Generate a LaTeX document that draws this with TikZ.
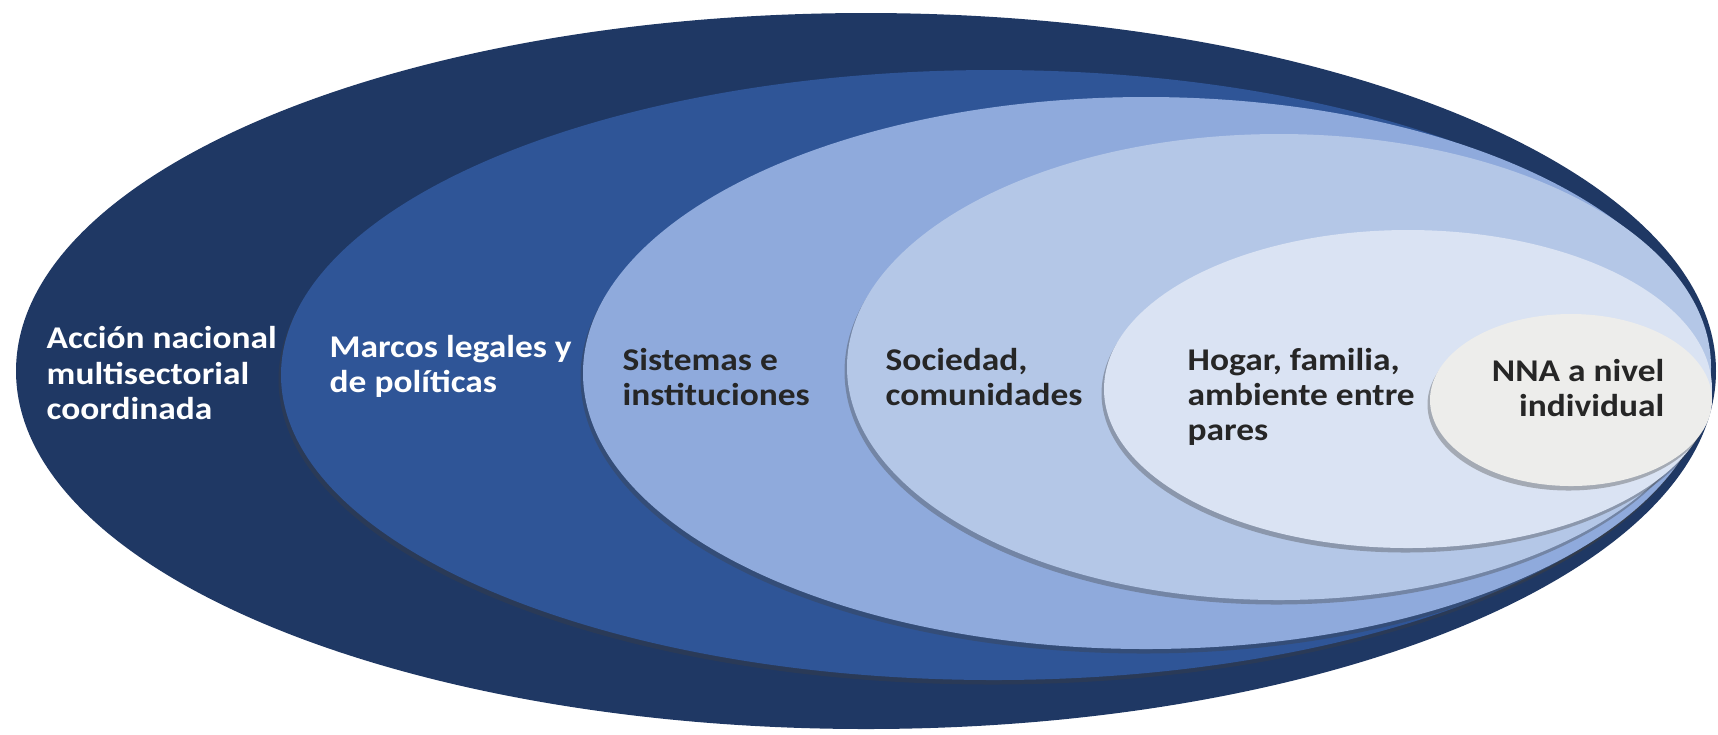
\documentclass[tikz,border=0pt]{standalone}
\usepackage{fontspec}
\newfontfamily\lblfont{Carlito}[FakeStretch=1.12]
\usetikzlibrary{shadows}
\definecolor{cA}{HTML}{1F3864}
\definecolor{cB}{HTML}{2F5597}
\definecolor{cC}{HTML}{8FAADC}
\definecolor{cD}{HTML}{B4C7E7}
\definecolor{cE}{HTML}{DAE3F3}
\definecolor{cF}{HTML}{EDEDEB}
\definecolor{txtdark}{HTML}{262626}
\begin{document}
\begin{tikzpicture}[x=0.1mm,y=-0.1mm,
  ring/.style={drop shadow={shadow xshift=-0.25mm,shadow yshift=-0.45mm,opacity=0.35,fill=black!75}},
  lbl/.style={font=\lblfont\bfseries\fontsize{9}{9.96}\selectfont, inner sep=0pt},
  lightlbl/.style={lbl, text=white, align=left, anchor=west},
  darklbl/.style={lbl, text=txtdark, align=left, anchor=west}]
\useasboundingbox (0,0) rectangle (1718,734);
\fill[white] (0,0) rectangle (1718,734);
% layers, outer to inner
\fill[cA] (866,371) ellipse [x radius=85.0mm, y radius=35.8mm];
\fill[cB,ring] (994,375) ellipse [x radius=71.3mm, y radius=30.5mm];
\fill[cC,ring] (1146,373) ellipse [x radius=56.3mm, y radius=27.6mm];
\fill[cD,ring] (1279,367) ellipse [x radius=43.2mm, y radius=23.3mm];
\fill[cE,ring] (1408,389) ellipse [x radius=30.4mm, y radius=15.9mm];
\fill[cF,ring] (1571,400) ellipse [x radius=14.1mm, y radius=8.6mm];
% labels
\node[lightlbl] (accion) at (46,373) {Acción nacional\\multisectorial\\coordinada};
\node[lightlbl] (marcos) at (329,366) {Marcos legales y\\de políticas};
\node[darklbl] (sistemas) at (622,377) {Sistemas e\\instituciones};
\node[darklbl] (sociedad) at (885,377) {Sociedad,\\comunidades};
\node[darklbl] (hogar) at (1187,397) {Hogar, familia,\\ambiente entre\\pares};
\node[lbl, text=txtdark, align=right, anchor=east] (nna) at (1665,388) {NNA a nivel\\individual};
\end{tikzpicture}
\end{document}
